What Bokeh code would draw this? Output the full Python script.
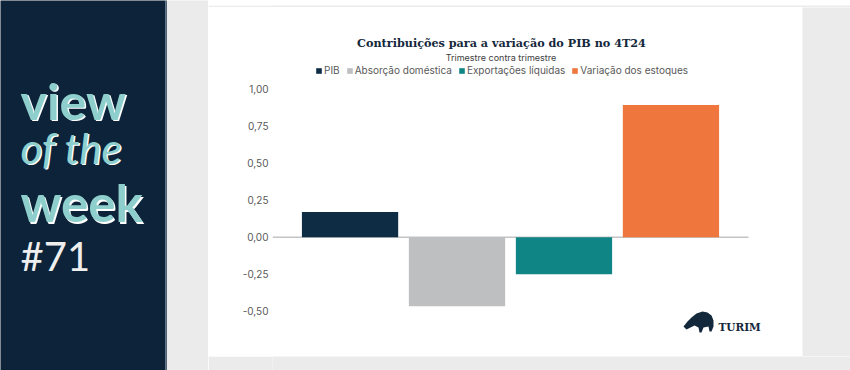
from bokeh.plotting import figure
from bokeh.layouts import row, column
from bokeh.models import (Range1d, FixedTicker, Legend, LegendItem, ColumnDataSource)
from bokeh.core.properties import value
from bokeh.embed import file_html
from bokeh.resources import INLINE

# ---- data ----
categories = ["PIB", "Absorção doméstica", "Exportações líquidas", "Variação dos estoques"]
values = [0.17, -0.465, -0.25, 0.89]
colors = ["#0e2c44", "#bebfc1", "#0f8585", "#ef763c"]
tick_values = [-0.5, -0.25, 0.0, 0.25, 0.5, 0.75, 1.0]
tick_labels = ["-0,50", "-0,25", "0,00", "0,25", "0,50", "0,75", "1,00"]
title_text = "Contribuições para a variação do PIB no 4T24"
subtitle_text = "Trimestre contra trimestre"
brand_lines = ["view", "of the", "week", "#71"]
logo_text = "TURIM"

# ---- layout constants (page pixels) ----
W, H = 850, 370
LEFT_W = 208            # navy panel + gray gutter
CARD_W = W - LEFT_W     # card + right gutter
CARD_TOP, CARD_BOT = 7, 356
AXIS_W = 64             # room for the y tick labels inside the card
NAVY = "#0c2339"
GRAY = "#ebebeb"
TEAL_TXT = "#8ecfcd"
TXT = "#595959"
DARK = "#14283c"
FONT = "Inter"

# chart scales
X_LO, X_HI = -0.725, 3.725          # extent of the plotted category band
PX_PER_X = 476 / (X_HI - X_LO)
Y_ZERO_PX, PX_PER_Y = 236.7, 148.4
frame_left = LEFT_W + AXIS_W
x_end = X_LO + (W - frame_left) / PX_PER_X
y_top = (Y_ZERO_PX - CARD_TOP) / PX_PER_Y
y_bot = -(CARD_BOT - Y_ZERO_PX) / PX_PER_Y


def blank(width, height, color):
    f = figure(width=width, height=height, output_backend="svg", toolbar_location=None,
               x_range=Range1d(0, 1), y_range=Range1d(0, 1),
               x_axis_location=None, y_axis_location=None, min_border=0)
    f.outline_line_color = None
    f.grid.visible = False
    f.border_fill_color = color
    f.background_fill_color = color
    return f


# ================= left panel =================
lf = figure(width=LEFT_W, height=H, output_backend="svg", toolbar_location=None,
            x_range=Range1d(0, LEFT_W), y_range=Range1d(H, 0),
            x_axis_location=None, y_axis_location=None, min_border=0)
lf.outline_line_color = None
lf.grid.visible = False
lf.border_fill_color = GRAY
lf.background_fill_color = GRAY
lf.quad(left=[-5], right=[165], top=[-5], bottom=[H + 5], fill_color=NAVY, line_color=None)
lf.quad(left=[165], right=[166.5], top=[-5], bottom=[H + 5], fill_color="#51657a", line_color=None)

specs = [(100, "50px", "bold"), (147, "42px", "italic"), (202, "51px", "bold")]
for txt, (yb, sz, st) in zip(brand_lines[:3], specs):
    for dx, col in ((1.5, "white"), (0, TEAL_TXT)):
        lf.text(x=[20 + dx], y=[yb + dx], text=[txt], text_font=value("Lato"),
                text_font_size=sz, text_font_style=st, text_color=col,
                text_baseline="alphabetic", text_align="left")
lf.text(x=[20], y=[255], text=[brand_lines[3]], text_font=value("Lato"),
        text_font_size="40px", text_color="#eeeeee", text_baseline="alphabetic")

# ================= card =================
p = figure(width=CARD_W, height=CARD_BOT - CARD_TOP, output_backend="svg",
           toolbar_location=None,
           x_range=Range1d(X_LO, x_end), y_range=Range1d(y_bot, y_top),
           min_border_left=AXIS_W, min_border_right=0, min_border_top=0,
           min_border_bottom=0, x_axis_location=None)
p.outline_line_color = None
p.xgrid.visible = False
p.ygrid.visible = False
p.border_fill_color = "white"
p.background_fill_color = "white"
# pixel ranges for decorations (page pixels, y downward)
p.extra_x_ranges = {"px": Range1d(frame_left, W)}
p.extra_y_ranges = {"px": Range1d(CARD_BOT, CARD_TOP)}

ax = p.yaxis[0]
ax.ticker = FixedTicker(ticks=tick_values)
ax.major_label_overrides = dict(zip(tick_values, tick_labels))
ax.axis_line_color = None
ax.major_tick_line_color = None
ax.minor_tick_line_color = None
ax.major_tick_in = 0
ax.major_tick_out = 0
ax.major_label_standoff = 4
ax.major_label_text_font = FONT
ax.major_label_text_font_size = "10px"
ax.major_label_text_color = TXT

# gray right gutter
p.quad(left=[802], right=[W + 5], top=[CARD_TOP - 5], bottom=[CARD_BOT + 5],
       fill_color=GRAY, line_color=None, x_range_name="px", y_range_name="px")

# zero line
p.segment(x0=[X_LO], x1=[X_HI], y0=[0], y1=[0], line_color="#c4c4c4", line_width=1.5)

# bars
src = ColumnDataSource(dict(x=list(range(len(categories))), top=values,
                            color=colors, cat=categories))
r = p.vbar(x="x", top="top", bottom=0, width=0.9, fill_color="color",
           line_color=None, source=src)

legend = Legend(items=[LegendItem(label=c, renderers=[r], index=i)
                       for i, c in enumerate(categories)],
                orientation="horizontal", location=(315 - frame_left, CARD_BOT - 76),
                glyph_width=7, glyph_height=7, label_standoff=2, spacing=6,
                padding=0, margin=0, border_line_color=None,
                background_fill_alpha=0, label_text_font=FONT,
                label_text_font_size="10px", label_text_color=TXT,
                label_height=10, label_width=0)
p.add_layout(legend)

# title & subtitle
p.text(x=[501], y=[42.7], text=[title_text], text_font=value("DejaVu Serif"),
       text_font_size="11.2px", text_font_style="bold", text_color=DARK,
       text_align="center", text_baseline="alphabetic",
       x_range_name="px", y_range_name="px")
p.text(x=[500.5], y=[57], text=[subtitle_text], text_font=value(FONT),
       text_font_size="9px", text_color="#404040", text_align="center",
       text_baseline="alphabetic", x_range_name="px", y_range_name="px")

# TURIM logo
bull_x = [683, 687, 691, 696, 702, 707, 711, 713, 713, 711, 709, 708, 703, 701, 699, 698, 694, 690, 686]
bull_y = [326, 321, 317, 313, 311, 312, 315, 320, 326, 331, 331, 326, 327, 332, 332, 327, 325, 327, 329]
p.patch(x=bull_x, y=bull_y, fill_color=DARK, line_color=None,
        x_range_name="px", y_range_name="px")
p.text(x=[718], y=[326.7], text=[logo_text], text_font=value("DejaVu Serif"),
       text_font_size="10.5px", text_font_style="bold", text_color=DARK,
       text_baseline="alphabetic", x_range_name="px", y_range_name="px")

card_col = column(blank(CARD_W, CARD_TOP, GRAY), p, blank(CARD_W, H - CARD_BOT, GRAY),
                  spacing=0)
layout = row(lf, card_col, spacing=0)
open("out.html", "w").write(file_html(layout, INLINE))
